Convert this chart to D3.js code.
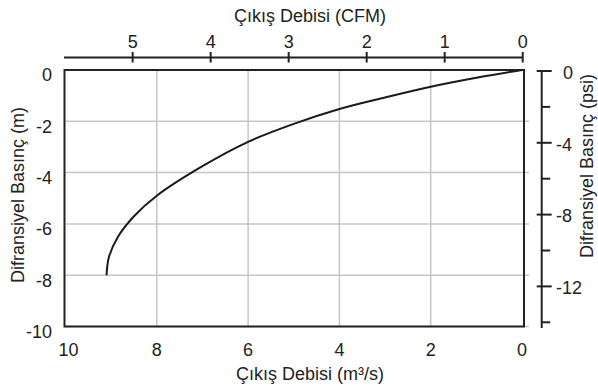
<!DOCTYPE html>
<html>
<head>
<meta charset="utf-8">
<script src="https://cdn.jsdelivr.net/npm/d3@7"></script>
<style>
  html, body { margin: 0; padding: 0; background: #fff; }
  svg text { font-family: "Liberation Sans", Arial, sans-serif; fill: #222; }
</style>
</head>
<body>
<div id="chart"></div>
<script>
// flow (m3/s) vs differential pressure (m)
const flow = [0, 1, 2, 3, 4, 5, 6, 7, 8, 8.5, 8.85, 9.05, 9.1];
const pressure = [0, -0.3, -0.65, -1.07, -1.52, -2.1, -2.8, -3.75, -4.9, -5.7, -6.5, -7.3, -8];
const flowTicks = [10, 8, 6, 4, 2, 0];
const pressTicks = [0, -2, -4, -6, -8, -10];
const cfmTicks = [5, 4, 3, 2, 1, 0];
const psiMajor = [0, -4, -8, -12];
const psiMinor = [-2, -6, -10, -14];
const titleBottom = "Çıkış Debisi (m³/s)";
const titleTop = "Çıkış Debisi (CFM)";
const titleLeft = "Difransiyel Basınç (m)";
const titleRight = "Difransiyel Basınç (psi)";

const W = 598, H = 391;
const fs = 18;
const svg = d3.select("#chart").append("svg").attr("width", W).attr("height", H);

const x = d3.scaleLinear().domain([10, 0]).range([65.5, 522]);
const y = d3.scaleLinear().domain([0, -10]).range([70, 326.5]);
const xCfm = d3.scaleLinear().domain([5.88, 0]).range([64, 522.7]);
const yPsi = d3.scaleLinear().domain([0, -14]).range([71, 322.3]);

// grid
svg.append("g").selectAll("line").data(flowTicks.filter((d) => d !== 10 && d !== 0)).enter().append("line")
  .attr("x1", (d) => x(d)).attr("x2", (d) => x(d))
  .attr("y1", y(0)).attr("y2", y(-10))
  .attr("stroke", "#c6c6c6").attr("stroke-width", 1.5);
svg.append("g").selectAll("line").data(pressTicks.filter((d) => d !== 0)).enter().append("line")
  .attr("x1", x(10)).attr("x2", x(0) + 7)
  .attr("y1", (d) => y(d)).attr("y2", (d) => y(d))
  .attr("stroke", "#c6c6c6").attr("stroke-width", 1.5);

// frame
svg.append("rect")
  .attr("x", x(10) - 1).attr("y", y(0))
  .attr("width", x(0) - x(10) + 3).attr("height", y(-10) - y(0))
  .attr("fill", "none").attr("stroke", "#222").attr("stroke-width", 2);

// curve
const pts = flow.map((d, i) => [d, pressure[i]]);
const line = d3.line().x((d) => x(d[0])).y((d) => y(d[1])).curve(d3.curveCatmullRom.alpha(0.5));
svg.append("path").datum(pts).attr("d", line)
  .attr("fill", "none").attr("stroke", "#1a1a1a").attr("stroke-width", 2);

// bottom labels
svg.append("g").selectAll("text").data(flowTicks).enter().append("text")
  .attr("x", (d) => x(d) + (d === 10 ? 3 : 0)).attr("y", 356)
  .attr("text-anchor", "middle").attr("font-size", fs).text((d) => d);
svg.append("text").attr("x", 310).attr("y", 380).attr("text-anchor", "middle").attr("font-size", fs)
  .text(titleBottom);

// left labels
svg.append("g").selectAll("text").data(pressTicks).enter().append("text")
  .attr("x", 52).attr("y", (d) => y(d) + 5).attr("dy", "0.35em")
  .attr("text-anchor", "end").attr("font-size", fs).text((d) => d);
svg.append("text").attr("transform", "translate(24,195) rotate(-90)")
  .attr("text-anchor", "middle").attr("font-size", fs).text(titleLeft);

// top axis (CFM)
const topAxis = svg.append("g");
topAxis.append("line").attr("x1", xCfm(5.88)).attr("x2", xCfm(0)).attr("y1", 57.5).attr("y2", 57.5)
  .attr("stroke", "#222").attr("stroke-width", 2);
topAxis.selectAll("line.t").data(cfmTicks).enter().append("line").attr("class", "t")
  .attr("x1", (d) => xCfm(d)).attr("x2", (d) => xCfm(d)).attr("y1", 52).attr("y2", 62.5)
  .attr("stroke", "#222").attr("stroke-width", 2);
topAxis.selectAll("text").data(cfmTicks).enter().append("text")
  .attr("x", (d) => xCfm(d)).attr("y", 48).attr("text-anchor", "middle").attr("font-size", fs).text((d) => d);
svg.append("text").attr("x", 310).attr("y", 21.5).attr("text-anchor", "middle").attr("font-size", fs)
  .text(titleTop);

// right axis (psi)
const ax = 541.7;
const rightAxis = svg.append("g");
rightAxis.append("line").attr("x1", ax).attr("x2", ax).attr("y1", yPsi(0)).attr("y2", 328)
  .attr("stroke", "#222").attr("stroke-width", 2);
rightAxis.selectAll("line.M").data(psiMajor).enter().append("line").attr("class", "M")
  .attr("x1", ax - 5).attr("x2", ax + 10).attr("y1", (d) => yPsi(d)).attr("y2", (d) => yPsi(d))
  .attr("stroke", "#222").attr("stroke-width", 2);
rightAxis.selectAll("line.m").data(psiMinor).enter().append("line").attr("class", "m")
  .attr("x1", ax).attr("x2", ax + 8.5).attr("y1", (d) => yPsi(d)).attr("y2", (d) => yPsi(d))
  .attr("stroke", "#222").attr("stroke-width", 2);
rightAxis.selectAll("text").data(psiMajor).enter().append("text")
  .attr("x", (d) => (d === 0 ? 563 : 556)).attr("y", (d) => yPsi(d) + 1.5).attr("dy", "0.35em")
  .attr("font-size", fs).text((d) => d);
svg.append("text").attr("transform", "translate(593,166) rotate(-90)")
  .attr("text-anchor", "middle").attr("font-size", fs).text(titleRight);
</script>
</body>
</html>
